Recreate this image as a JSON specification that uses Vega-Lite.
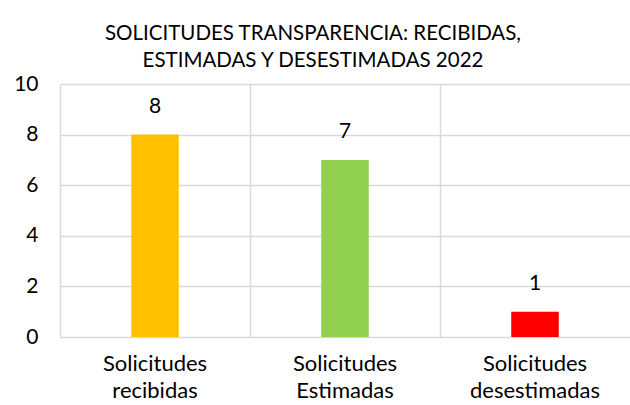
{
  "$schema": "https://vega.github.io/schema/vega-lite/v6.json",
  "autosize": {"type": "none"},
  "width": 570,
  "height": 253,
  "padding": {"left": 60, "top": 84, "right": 0, "bottom": 68},
  "background": "white",
  "config": {"view": {"stroke": null}, "font": "Lato"},
  "title": {
    "text": ["SOLICITUDES TRANSPARENCIA: RECIBIDAS,", "ESTIMADAS Y DESESTIMADAS 2022"],
    "fontSize": 20.5,
    "fontWeight": "normal",
    "font": "Lato",
    "color": "#000000",
    "lineHeight": 27,
    "anchor": "middle",
    "frame": "group",
    "dx": -32,
    "offset": 2
  },
  "data": {
    "values": [
      {"categoria": "Solicitudes recibidas", "valor": 8, "color": "#FFC000"},
      {"categoria": "Solicitudes Estimadas", "valor": 7, "color": "#92D050"},
      {"categoria": "Solicitudes desestimadas", "valor": 1, "color": "#FF0000"}
    ]
  },
  "encoding": {
    "x": {
      "field": "categoria",
      "type": "nominal",
      "sort": null,
      "scale": {"paddingInner": 0, "paddingOuter": 0},
      "axis": {
        "title": null,
        "labelAngle": 0,
        "labelExpr": "split(datum.label, ' ')",
        "labelFontSize": 22,
        "labelLineHeight": 27,
        "labelColor": "#000000",
        "labelPadding": 16,
        "labelBaseline": "top",
        "ticks": false,
        "domain": false,
        "grid": true,
        "gridColor": "#d9d9d9",
        "gridWidth": 1.5,
        "bandPosition": 0
      }
    },
    "y": {
      "field": "valor",
      "type": "quantitative",
      "scale": {"domain": [0, 10], "nice": false},
      "axis": {
        "title": null,
        "values": [0, 2, 4, 6, 8, 10],
        "labelFontSize": 21,
        "labelColor": "#000000",
        "labelPadding": 22,
        "ticks": false,
        "domain": false,
        "grid": true,
        "gridColor": "#d9d9d9",
        "gridWidth": 1.5
      }
    }
  },
  "layer": [
    {
      "mark": {"type": "bar", "width": {"band": 0.25}},
      "encoding": {"color": {"field": "color", "type": "nominal", "scale": null}}
    },
    {
      "mark": {"type": "text", "dy": -28, "fontSize": 21, "color": "#000000", "baseline": "middle"},
      "encoding": {"text": {"field": "valor", "type": "quantitative"}}
    }
  ]
}
